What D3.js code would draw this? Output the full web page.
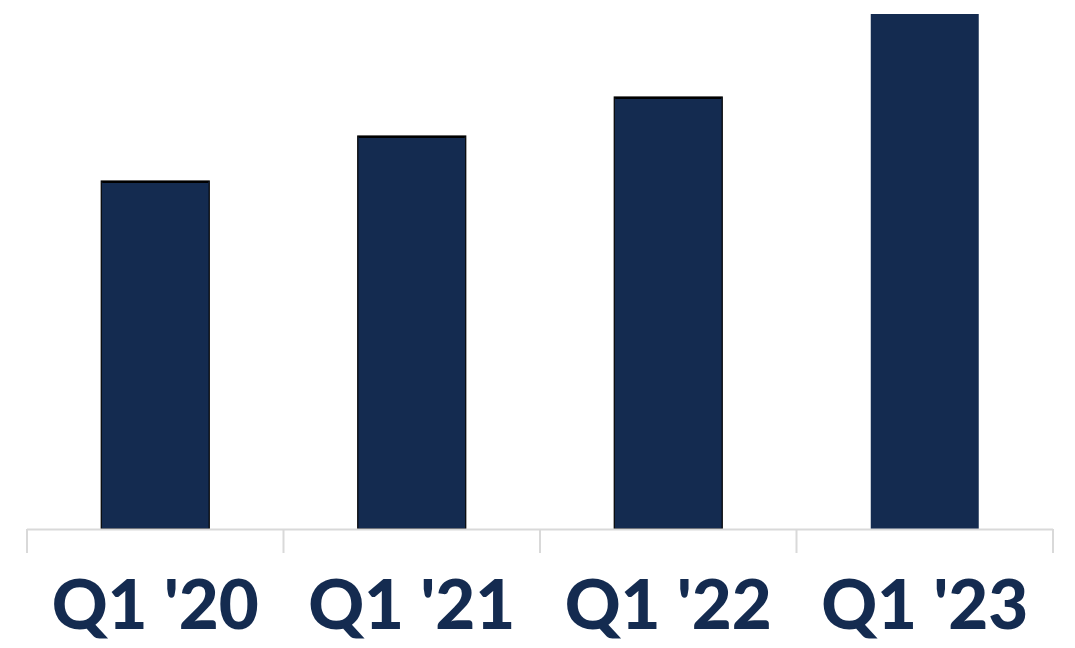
<!DOCTYPE html>
<html>
<head>
<meta charset="utf-8">
<script src="https://cdn.jsdelivr.net/npm/d3@7"></script>
<style>
  html, body { margin: 0; padding: 0; background: #ffffff; }
  svg { display: block; }
</style>
</head>
<body>
<svg id="chart" width="1075" height="648"></svg>
<script>
// Quarterly values (Q1 of each year)
const categories = ["Q1 '20", "Q1 '21", "Q1 '22", "Q1 '23"];
const values = [348, 393, 432, 515];
const outlined = [true, true, true, false];

const plotLeft = 27, plotRight = 1053, plotBase = 529, plotTop = 14;
const barColor = "#142b50";

const svg = d3.select("#chart");

const x = d3.scaleBand()
  .domain(categories)
  .range([plotLeft, plotRight])
  .paddingInner(0.579)
  .paddingOuter(0.2895);

const y = d3.scaleLinear()
  .domain([0, d3.max(values)])
  .range([plotBase, plotTop]);

// Bars
const bars = svg.append("g");
bars.selectAll("rect")
  .data(categories)
  .join("rect")
  .attr("x", d => x(d))
  .attr("y", (d, i) => y(values[i]))
  .attr("width", x.bandwidth())
  .attr("height", (d, i) => y(0) - y(values[i]))
  .attr("fill", barColor)
  .attr("stroke", (d, i) => outlined[i] ? "#000000" : "none")
  .attr("stroke-width", 1.2);

// Darker top edge on outlined bars
bars.selectAll("line.cap")
  .data(categories.filter((d, i) => outlined[i]))
  .join("line")
  .attr("class", "cap")
  .attr("x1", d => x(d) + 1).attr("x2", d => x(d) + x.bandwidth() - 1)
  .attr("y1", d => y(values[categories.indexOf(d)]) + 1)
  .attr("y2", d => y(values[categories.indexOf(d)]) + 1)
  .attr("stroke", "#000000").attr("stroke-width", 2);

// Category axis: baseline with separators between categories
const axis = svg.append("g").attr("class", "axis");
axis.append("line")
  .attr("x1", plotLeft).attr("x2", plotRight)
  .attr("y1", plotBase + 0.5).attr("y2", plotBase + 0.5)
  .attr("stroke", "#d9d9d9").attr("stroke-width", 2);

const boundaries = d3.range(categories.length + 1)
  .map(i => plotLeft + i * (plotRight - plotLeft) / categories.length);
axis.selectAll("line.sep")
  .data(boundaries)
  .join("line")
  .attr("class", "sep")
  .attr("x1", d => d).attr("x2", d => d)
  .attr("y1", plotBase).attr("y2", plotBase + 24)
  .attr("stroke", "#d9d9d9").attr("stroke-width", 2);

// Category labels
axis.selectAll("text")
  .data(categories)
  .join("text")
  .attr("x", d => x(d) + x.bandwidth() / 2)
  .attr("y", 629)
  .attr("text-anchor", "middle")
  .attr("fill", barColor)
  .style("font-family", "Lato, 'Open Sans', sans-serif")
  .style("font-weight", "900")
  .style("font-size", "69px")
  .text(d => d);
</script>
</body>
</html>
